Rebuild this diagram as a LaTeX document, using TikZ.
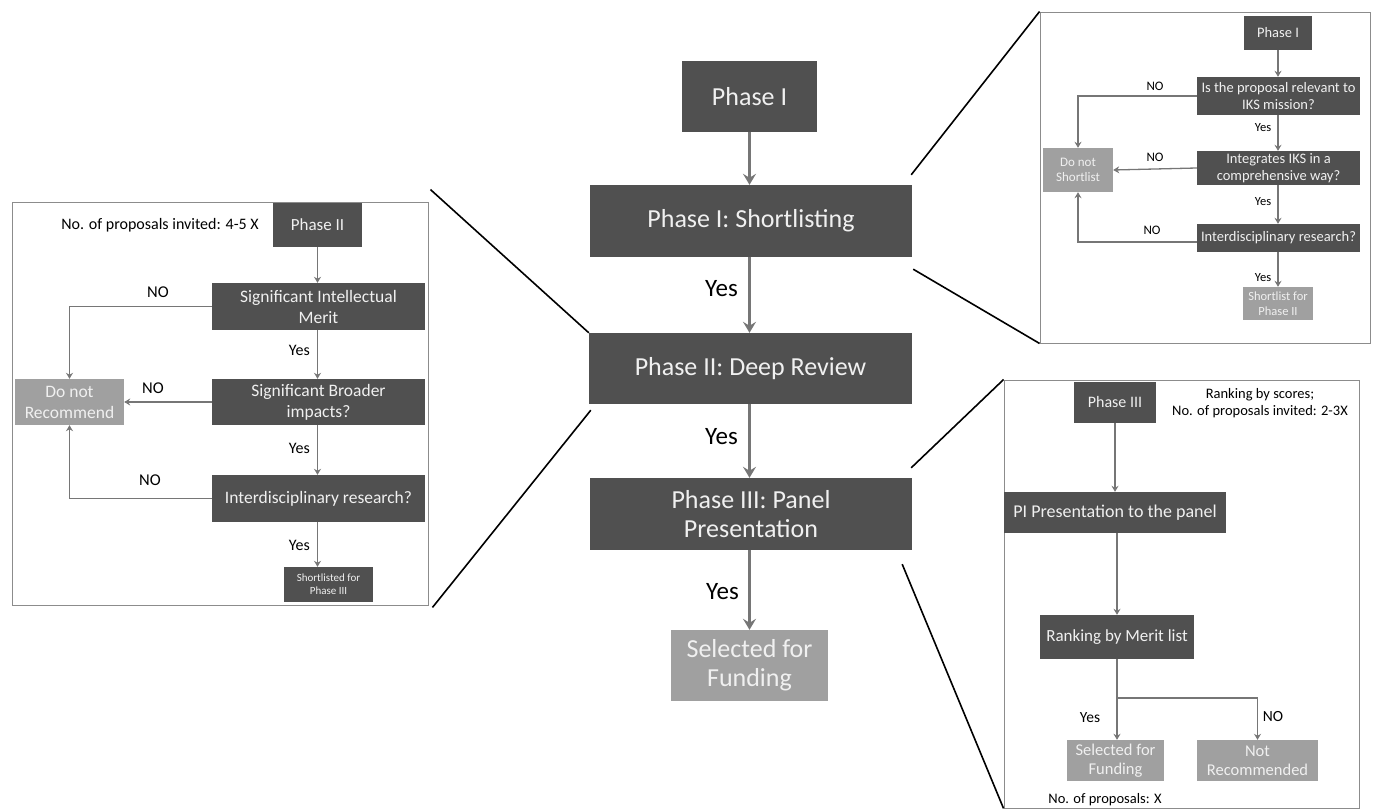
\documentclass[tikz,border=0pt]{standalone}
\usepackage{fontspec}
\setmainfont{Carlito}
\usetikzlibrary{arrows.meta,calc}
\definecolor{dk}{RGB}{80,80,80}
\definecolor{lt}{RGB}{160,160,160}
\definecolor{tx}{RGB}{240,240,240}
\definecolor{ar}{RGB}{118,118,118}
\definecolor{fr}{RGB}{140,140,140}
\begin{document}
\begin{tikzpicture}[x=1pt,y=-1pt,
  box/.style={rectangle,inner sep=0pt,align=center,text=tx},
  dbox/.style={box,fill=dk},
  lbox/.style={box,fill=lt},
  big/.style={font=\fontsize{26}{29}\selectfont},
  lf/.style={font=\fontsize{17.5}{21}\selectfont},
  tf/.style={font=\fontsize{14.5}{16.5}\selectfont},
  arrc/.style={draw=ar,line width=2.2pt,-{Stealth[length=11pt,width=13pt,inset=4pt]}},
  arrs/.style={draw=ar,line width=1.3pt,-{Stealth[length=6pt,width=7pt,inset=2pt]}},
  zline/.style={draw=black,line width=1.6pt},
  frame/.style={draw=fr,line width=0.9pt,rectangle,inner sep=0pt},
  lbl/.style={inner sep=0pt,text=black}
]
\useasboundingbox (0,0) rectangle (1378,810);

% ---------- centre column ----------
\node[dbox,big,minimum width=135pt,minimum height=71pt] (c1) at (749.5,96.5) {Phase I};
\node[dbox,big,minimum width=322pt,minimum height=72pt] (c2) at (751,221) {Phase I: Shortlisting};
\node[dbox,big,minimum width=323pt,minimum height=71pt] (c3) at (750.5,368.5) {Phase II: Deep Review};
\node[dbox,big,minimum width=322pt,minimum height=72pt] (c4) at (751,514) {Phase III: Panel\\Presentation};
\node[lbox,big,minimum width=157pt,minimum height=71pt] (c5) at (749.5,665.5) {Selected for\\Funding};

\draw[arrc] (c1.south) -- (c1.south |- c2.north);
\draw[arrc] (c1.south |- c2.south) -- (c1.south |- c3.north);
\draw[arrc] (c1.south |- c3.south) -- (c1.south |- c4.north);
\draw[arrc] (c1.south |- c4.south) -- (c1.south |- c5.north);
\node[lbl,font=\fontsize{25}{28}\selectfont,anchor=east] (cy1) at (738,289) {Yes};
\node[lbl,font=\fontsize{25}{28}\selectfont,anchor=east] (cy2) at (738,437) {Yes};
\node[lbl,font=\fontsize{25}{28}\selectfont,anchor=east] (cy3) at (739,592) {Yes};

% ---------- panels ----------
\node[frame,minimum width=416pt,minimum height=403pt] (lp) at (220,403.5) {};
\node[frame,minimum width=330pt,minimum height=331pt] (tp) at (1205,177.5) {};
\node[frame,minimum width=355pt,minimum height=428pt] (bp) at (1181.5,594) {};

% zoom lines
\draw[zline] ($(c2.north east)+(-1,-10)$) -- (tp.north west);
\draw[zline] ($(c2.south east)+(1,12)$) -- (tp.south west);
\draw[zline] (c3.north west) -- ($(lp.north east)+(2,-12)$);
\draw[zline] ($(c3.south west)+(2,6)$) -- ($(lp.south east)+(4,2)$);
\draw[zline] ($(c4.north east)+(-1,-10)$) -- (bp.north west);
\draw[zline] ($(c4.south east)+(-10,14)$) -- (bp.south west);

% ---------- left panel ----------
\node[dbox,font=\fontsize{17}{20}\selectfont,minimum width=89pt,minimum height=44pt] (l0) at (317.5,225) {Phase II};
\node[lbl,font=\fontsize{16}{19}\selectfont,anchor=east] (lnote) at (259,225) {No. of proposals invited: 4-5 X};
\node[dbox,lf,minimum width=213pt,minimum height=47pt] (l1) at (318.5,306.5) {Significant Intellectual\\Merit};
\node[lbox,lf,minimum width=109pt,minimum height=46pt] (ldn) at (69.5,402) {Do not\\Recommend};
\node[dbox,lf,minimum width=213pt,minimum height=46pt] (l2) at (318.5,402) {Significant Broader\\impacts?};
\node[dbox,lf,minimum width=213pt,minimum height=47pt] (l3) at (318.5,498.5) {Interdisciplinary research?};
\node[dbox,font=\fontsize{11}{13}\selectfont,minimum width=89pt,minimum height=35pt] (l4) at (328.5,584.5) {Shortlisted for\\Phase III};

\draw[arrs] (l0.south) -- (l0.south |- l1.north);
\draw[arrs] (l0.south |- l1.south) -- (l0.south |- l2.north);
\draw[arrs] (l0.south |- l2.south) -- (l0.south |- l3.north);
\draw[arrs] (l0.south |- l3.south) -- (l0.south |- l4.north);
\draw[arrs] (l1.west) -| (ldn.north);
\draw[arrs] (l2.west) -- (ldn.east);
\draw[arrs] (l3.west) -| (ldn.south);
\node[lbl,font=\fontsize{16}{19}\selectfont,anchor=east] (ly1) at (310,350) {Yes};
\node[lbl,font=\fontsize{16}{19}\selectfont,anchor=east] (ly2) at (310,448) {Yes};
\node[lbl,font=\fontsize{16}{19}\selectfont,anchor=east] (ly3) at (310,545) {Yes};
\node[lbl,font=\fontsize{16.5}{19}\selectfont] (ln1) at (158,292) {NO};
\node[lbl,font=\fontsize{16.5}{19}\selectfont] (ln2) at (153,388) {NO};
\node[lbl,font=\fontsize{16.5}{19}\selectfont] (ln3) at (150,480) {NO};

% ---------- top-right panel ----------
\node[dbox,tf,minimum width=68pt,minimum height=34pt] (t0) at (1278,33) {Phase I};
\node[dbox,tf,minimum width=163pt,minimum height=38pt] (t1) at (1278.5,96) {Is the proposal relevant to\\IKS mission?};
\node[lbox,font=\fontsize{13}{15}\selectfont,minimum width=70pt,minimum height=44pt] (tdn) at (1078,170) {Do not\\Shortlist};
\node[dbox,tf,minimum width=163pt,minimum height=34pt] (t2) at (1278.5,168) {Integrates IKS in a\\comprehensive way?};
\node[dbox,tf,minimum width=163pt,minimum height=28pt] (t3) at (1278.5,238) {Interdisciplinary research?};
\node[lbox,font=\fontsize{12.5}{14.5}\selectfont,minimum width=70pt,minimum height=33pt] (t4) at (1278,303.5) {Shortlist for\\Phase II};

\draw[arrs] (t0.south) -- (t0.south |- t1.north);
\draw[arrs] (t0.south |- t1.south) -- (t0.south |- t2.north);
\draw[arrs] (t0.south |- t2.south) -- (t0.south |- t3.north);
\draw[arrs] (t0.south |- t3.south) -- (t0.south |- t4.north);
\draw[arrs] (t1.west) -| (tdn.north);
\draw[arrs] (t2.west) -- (tdn.east);
\draw[arrs] ($(t3.west)+(0,4)$) -| (tdn.south);
\node[lbl,font=\fontsize{13}{15}\selectfont] (tn1) at (1155,86) {NO};
\node[lbl,font=\fontsize{13}{15}\selectfont] (tn2) at (1155,157) {NO};
\node[lbl,font=\fontsize{13}{15}\selectfont] (tn3) at (1152,230) {NO};
\node[lbl,font=\fontsize{12.5}{15}\selectfont] (ty1) at (1263,128) {Yes};
\node[lbl,font=\fontsize{12.5}{15}\selectfont] (ty2) at (1263,202) {Yes};
\node[lbl,font=\fontsize{12.5}{15}\selectfont] (ty3) at (1263,278) {Yes};

% ---------- bottom-right panel ----------
\node[dbox,font=\fontsize{16}{19}\selectfont,minimum width=82pt,minimum height=41pt] (b0) at (1115,402.5) {Phase III};
\node[lbl,font=\fontsize{14.5}{17}\selectfont,align=center] (bnote) at (1260,403.5) {Ranking by scores;\\No. of proposals invited: 2-3X};
\node[dbox,font=\fontsize{18}{21}\selectfont,minimum width=222pt,minimum height=41pt] (b1) at (1115,512.5) {PI Presentation to the panel};
\node[dbox,font=\fontsize{17}{20}\selectfont,minimum width=154pt,minimum height=44pt] (b2) at (1117,637) {Ranking by Merit list};
\node[lbox,font=\fontsize{16.5}{19}\selectfont,minimum width=97pt,minimum height=41pt] (b3) at (1115.5,760.5) {Selected for\\Funding};
\node[lbox,font=\fontsize{16.5}{19}\selectfont,minimum width=121pt,minimum height=41pt] (b4) at (1257.5,760.5) {Not\\Recommended};
\coordinate (br) at (1117,698);

\draw[arrs] (b0.south) -- (b0.south |- b1.north);
\draw[arrs] (b2.north |- b1.south) -- (b2.north);
\draw[arrs] (b2.south) -- (b2.south |- b3.north);
\draw[arrs] (br) -| (b4.north);
\node[lbl,font=\fontsize{15.5}{18}\selectfont] (byes) at (1090,718) {Yes};
\node[lbl,font=\fontsize{15.5}{18}\selectfont] (bno) at (1273,717) {NO};
\node[lbl,font=\fontsize{14.5}{17}\selectfont] (bcount) at (1105,800) {No. of proposals: X};
\end{tikzpicture}
\end{document}
